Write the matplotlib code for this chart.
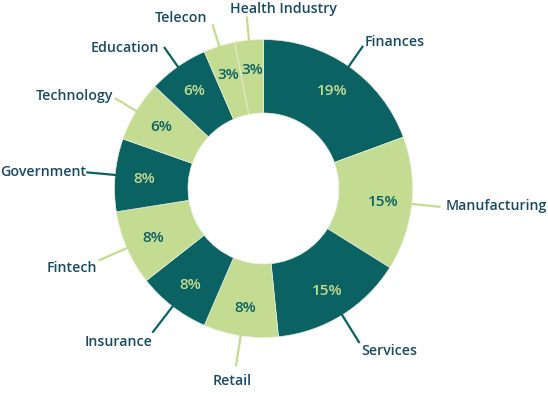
import numpy as np
import matplotlib.pyplot as plt

# sectors, clockwise from the top
sectors = ['Finances', 'Manufacturing', 'Services', 'Retail', 'Insurance', 'Fintech',
           'Government', 'Technology', 'Education', 'Telecon', 'Health Industry']
shares = [19.4, 14.5, 14.5, 8.1, 7.9, 8.1, 7.9, 6.6, 6.5, 3.4, 3.1]
pct_labels = ['19%', '15%', '15%', '8%', '8%', '8%', '8%', '6%', '6%', '3%', '3%']

DARK = '#0b6263'
LIGHT = '#c4dc92'
TEXT = '#1b4b62'

colors = [DARK if i % 2 == 0 else LIGHT for i in range(len(shares))]
colors[-1] = LIGHT  # two light slices at the end

fig = plt.figure(figsize=(5.48, 4.10), dpi=100)
ax = fig.add_axes([0, 0, 1, 1])

cx, cy = 263.5, 220.5
R = 149
W = 73.5

wedges, _ = ax.pie(shares, colors=colors, startangle=90, counterclock=False,
                   radius=R, center=(cx, cy), frame=True,
                   wedgeprops=dict(width=W, edgecolor='#e8eee0', linewidth=0.5))
ax.set_xlim(0, 548)
ax.set_ylim(0, 410)
ax.set_aspect('equal')
ax.axis('off')

# label placement: leader end radius, text offset (px), alignment
lead_r = [174, 178, 182, 180, 182, 180, 178, 174, 173, 172, 173]
offs = [(2, 5), (5, 2), (2, -7), (-4, -14), (0, -8), (-1, -6),
        (0, 1), (-2, 3), (-5, 0), (-5, 7), (-17, 8)]
has = ['left', 'left', 'left', 'center', 'right', 'right',
       'right', 'right', 'right', 'right', 'left']

for i, w in enumerate(wedges):
    mid = np.deg2rad((w.theta1 + w.theta2) / 2)
    c, s = np.cos(mid), np.sin(mid)
    # percentage
    pr = 120
    ax.text(cx + pr * c, cy + pr * s, pct_labels[i], ha='center', va='center',
            fontsize=11, fontweight='semibold', family='Open Sans',
            color=LIGHT if colors[i] == DARK else DARK)
    # leader line
    x0, y0 = cx + (R - 1) * c, cy + (R - 1) * s
    x1, y1 = cx + lead_r[i] * c, cy + lead_r[i] * s
    ax.plot([x0, x1], [y0, y1], color=colors[i], lw=1.6, solid_capstyle='butt')
    dx, dy = offs[i]
    ax.text(x1 + dx, y1 + dy, sectors[i], ha=has[i], va='center',
            fontsize=10.2, fontweight='semibold', family='Open Sans', color=TEXT)

fig.savefig('out.png', dpi=100)
